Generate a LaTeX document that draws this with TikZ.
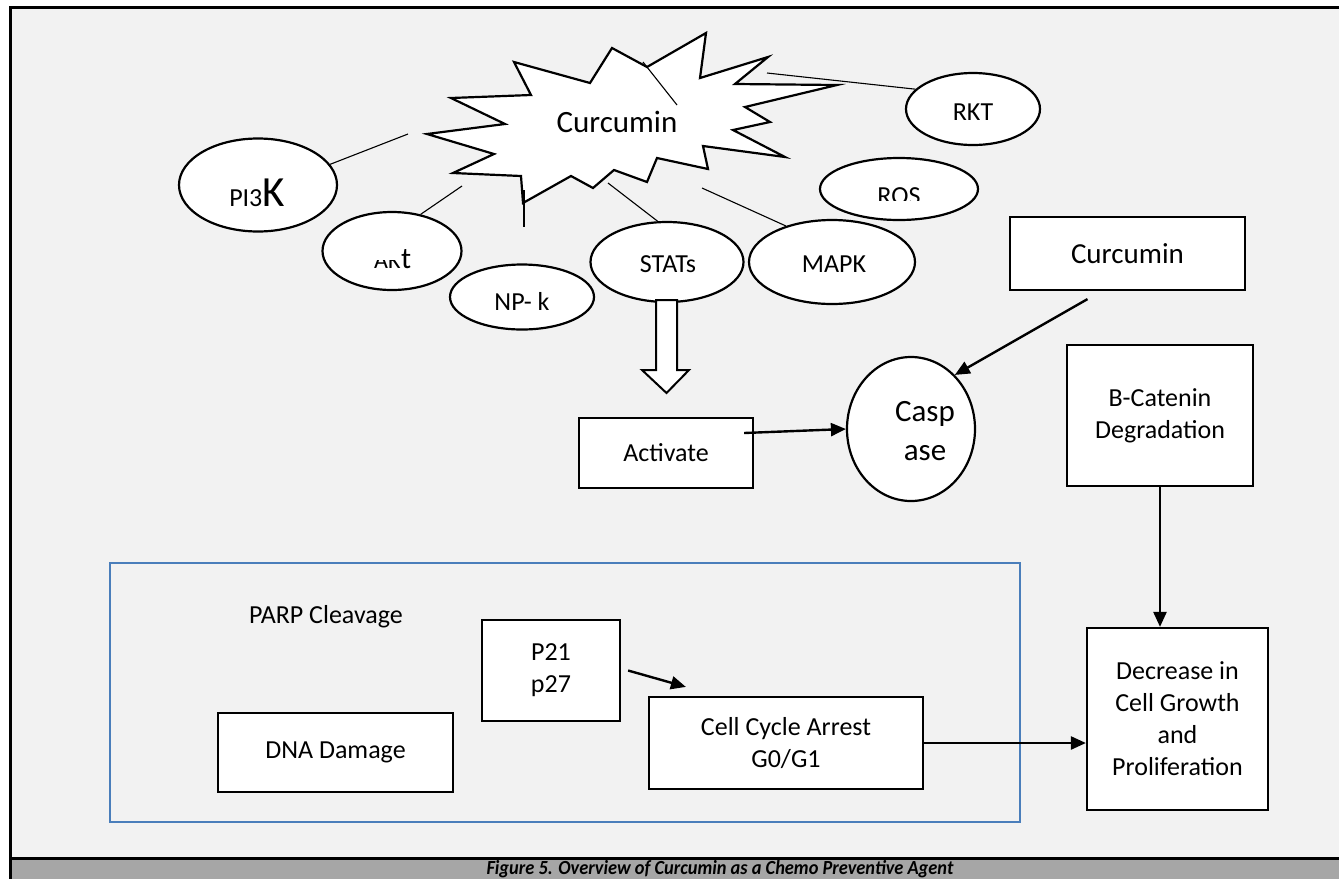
\documentclass[tikz,border=0pt]{standalone}
\usepackage{fontspec}
\setmainfont{Carlito}
\usetikzlibrary{shapes.geometric,arrows.meta,calc}
\definecolor{bg}{HTML}{F2F2F2}
\definecolor{capband}{HTML}{A6A6A6}
\definecolor{bluebox}{HTML}{4A7EBB}
\begin{document}
\begin{tikzpicture}[x=1pt,y=-1pt,
  oval/.style={ellipse, draw, fill=white, line width=2.2pt, inner sep=0pt},
  boxn/.style={rectangle, draw, fill=white, line width=2.2pt, inner sep=0pt, align=center, font=\fontsize{26}{32}\selectfont},
  lbl/.style={inner sep=0pt, anchor=base, font=\fontsize{26}{32}\selectfont},
  biglbl/.style={inner sep=0pt, align=center, font=\fontsize{31}{39}\selectfont},
  link/.style={line width=1.1pt},
  arr/.style={line width=2.4pt, -{Triangle[length=15pt,width=13pt]}},
  hollow/.style={draw, fill=white, line width=2pt, line join=miter}
]
\useasboundingbox (0,0) rectangle (1339,879);
\fill[white] (0,0) rectangle (1339,879);
\fill[bg] (10.5,7.5) rectangle (1339,858.5);
\fill[capband] (10.5,858.5) rectangle (1339,879);
\draw[line width=3pt] (1339,7.5) -- (10.5,7.5) -- (10.5,879);
\draw[line width=3pt] (10.5,858.5) -- (1339,858.5);

% group box
\node[draw=bluebox, line width=2pt, minimum width=910pt, minimum height=259pt, inner sep=0pt] (grp) at (565,692.5) {};

% starburst
\filldraw[fill=white, line width=2.2pt, line join=miter]
  (514,62) -- (590,83) -- (612,48) -- (647,67) -- (706,33) -- (700,78) -- (768,57) -- (735,84) -- (837,85) -- (745,107) -- (770,122) -- (733,130) -- (785,157) -- (703,146) -- (708,169) -- (657,158) -- (647,182) -- (614,170) -- (593,188) -- (571,176) -- (523,203) -- (521,176) -- (453,173) -- (494,154) -- (427,134) -- (505,124) -- (451,98) -- (531,95) -- cycle;
\node[inner sep=0pt, anchor=base, font=\fontsize{31}{31}\selectfont] (cur) at (617,132) {Curcumin};

% ellipses
\node[oval, minimum width=158pt, minimum height=93pt] (pi3k) at (258,185) {};
\node[oval, minimum width=139pt, minimum height=78pt] (akt) at (392,251) {};
\node[oval, minimum width=144pt, minimum height=65pt] (nfk) at (522,297) {};
\node[oval, minimum width=153pt, minimum height=80pt] (stats) at (667,262) {};
\node[oval, minimum width=166pt, minimum height=84pt] (mapk) at (832,262) {};
\node[oval, minimum width=158pt, minimum height=62pt] (ros) at (899,189) {};
\node[oval, minimum width=134pt, minimum height=72pt] (rkt) at (973,109) {};
\node[oval, minimum width=128pt, minimum height=144pt] (casp) at (911,429) {};

% ellipse labels
\node[inner sep=0pt, anchor=base] (pi3kL) at (257,206) {\fontsize{26}{26}\selectfont PI3\fontsize{43}{43}\selectfont K};
\begin{scope}
  \clip (360,260) rectangle (401,285);
  \node[inner sep=0pt, anchor=base west, font=\fontsize{24}{24}\selectfont] (aktA) at (374,268) {AK};
\end{scope}
\node[inner sep=0pt, anchor=base west, font=\fontsize{30}{30}\selectfont] (aktT) at (401,268) {t};
\node[lbl] (nfkL) at (522,310) {NP- k};
\node[lbl] (statsL) at (668,272) {STATs};
\node[lbl] (mapkL) at (834,272) {MAPK};
\begin{scope}
  \clip (820,150) rectangle (980,200);
  \node[lbl] (rosL) at (899,204) {ROS};
\end{scope}
\node[lbl] (rktL) at (973,120) {RKT};
\node[biglbl] (caspL) at (925,431) {Casp\\ase};

% boxes
\node[boxn, minimum width=174pt, minimum height=70pt] (act) at (666,453) {Activate};
\node[boxn, minimum width=235pt, minimum height=73pt, font=\fontsize{29}{35}\selectfont] (cbox) at (1127.5,253.5) {Curcumin};
\node[boxn, minimum width=186pt, minimum height=141pt] (bcat) at (1160,415.5) {B-Catenin\\Degradation};
\node[boxn, minimum width=181pt, minimum height=182pt] (dec) at (1177.5,719) {Decrease in\\Cell Growth\\and\\Proliferation};
\node[boxn, minimum width=274pt, minimum height=92pt] (cca) at (786,743) {Cell Cycle Arrest\\G0/G1};
\node[boxn, minimum width=138pt, minimum height=101pt] (p21) at (551,670.5) {P21\\p27};
\node[boxn, minimum width=235pt, minimum height=79pt] (dna) at (335.5,752.5) {DNA Damage};
\node[lbl] (parp) at (326,623) {PARP Cleavage};

% thin links from the starburst
\coordinate (s1) at (408,134);
\coordinate (s2) at (462,186);
\coordinate (s3a) at (524,190);
\coordinate (s3b) at (524,227);
\coordinate (s4) at (608,183);
\coordinate (s5) at (702,188);
\coordinate (s6a) at (643,62);
\coordinate (s6b) at (677,105);
\coordinate (s7) at (767,73);
\draw[link] (s1) -- (pi3k.16);
\draw[link] (s2) -- (akt.52);
\draw[link] (s3a) -- (s3b);
\draw[link] (s4) -- (stats.103);
\draw[link] (s5) -- (mapk.142);
\draw[link] (s6a) -- (s6b);
\draw[link] (s7) -- (rkt.161);

% hollow arrow STATs -> Activate
\path[hollow] (656,300) -- (656,370) -- (642,370) -- (666.5,393) -- (689,370) -- (677,370) -- (677,300) -- cycle;

% arrows
\draw[arr] ([shift={(-10,-20)}]act.east) -- (casp.west);
\draw[arr] ([shift={(-40,8)}]cbox.south) -- (casp.51);
\draw[arr] (bcat.south) -- (bcat.south |- dec.north);
\draw[arr] (cca.east) -- (dec.west |- cca.east);
\draw[arr] ([xshift=7pt]p21.east) -- ([shift={(38,-9)}]cca.north west);

% caption
\node[inner sep=0pt, font=\fontsize{20}{20}\selectfont\bfseries\itshape] (cap) at (720,869) {\scalebox{0.92}[1]{Figure 5. Overview of Curcumin as a Chemo Preventive Agent}};
\end{tikzpicture}
\end{document}
